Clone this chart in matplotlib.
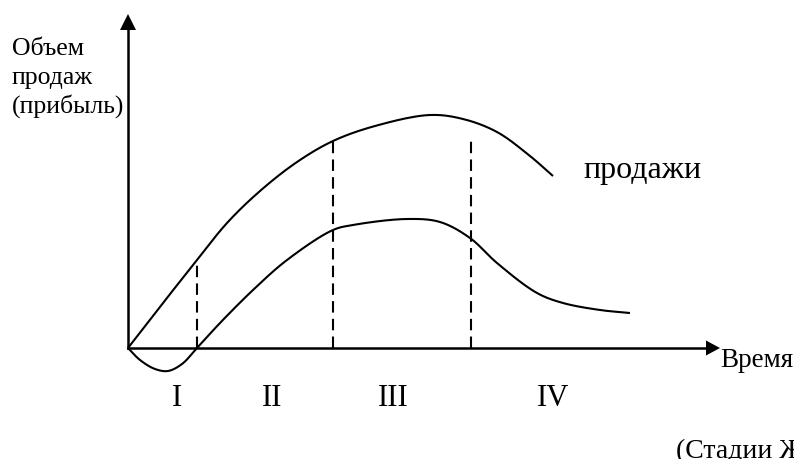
import numpy as np
import matplotlib.pyplot as plt

plt.rcParams['font.family'] = ['Liberation Serif', 'DejaVu Serif']

# values (time, volume); origin of the axes at (0, 0)
sales_t = [0, 35, 69, 99, 132, 169, 205, 247, 302, 335, 369, 402, 425]
sales_v = [0, 45, 88, 125, 157, 186, 207, 222, 233, 229, 216, 192, 172]

profit_t = [0, 12, 27, 40, 54, 69, 92, 125, 159, 205, 225, 279, 312, 342, 369, 409, 435, 472, 502]
profit_v = [0, -12, -21, -23, -16, 0, 25, 58, 88, 118, 123, 129, 126, 110, 85, 55, 45, 38, 35]

stage_bounds = [69, 205, 343]
stage_tops = [88, 208, 211]
stage_names = ['I', 'II', 'III', 'IV']
stage_label_t = [49, 144, 265, 425]


def smooth(xs, ys, n=20):
    # centripetal Catmull-Rom curve through the read-off points
    p = np.column_stack([xs, ys]).astype(float)
    p = np.vstack([2 * p[0] - p[1], p, 2 * p[-1] - p[-2]])
    out = []
    for i in range(1, len(p) - 2):
        p0, p1, p2, p3 = p[i - 1], p[i], p[i + 1], p[i + 2]
        t0 = 0.0
        t1 = t0 + np.linalg.norm(p1 - p0) ** 0.5
        t2 = t1 + np.linalg.norm(p2 - p1) ** 0.5
        t3 = t2 + np.linalg.norm(p3 - p2) ** 0.5
        t = np.linspace(t1, t2, n, endpoint=False)[:, None]
        a1 = (t1 - t) / (t1 - t0) * p0 + (t - t0) / (t1 - t0) * p1
        a2 = (t2 - t) / (t2 - t1) * p1 + (t - t1) / (t2 - t1) * p2
        a3 = (t3 - t) / (t3 - t2) * p2 + (t - t2) / (t3 - t2) * p3
        b1 = (t2 - t) / (t2 - t0) * a1 + (t - t0) / (t2 - t0) * a2
        b2 = (t3 - t) / (t3 - t1) * a2 + (t - t1) / (t3 - t1) * a3
        out.append((t2 - t) / (t2 - t1) * b1 + (t - t1) / (t2 - t1) * b2)
    out.append(p[-2][None, :])
    out = np.vstack(out)
    return out[:, 0], out[:, 1]


fig = plt.figure(figsize=(7.94, 4.59), dpi=100)
ax = fig.add_axes([0, 0, 1, 1])
ax.set_xlim(-128, 666)
ax.set_ylim(-111, 348)
ax.axis('off')

# axes with arrows
ax.plot([0, 0], [0, 320], color='black', lw=1.8)
ax.plot([0, 580], [0, 0], color='black', lw=1.8)
ax.fill([-8, 8, 0], [318, 318, 334], color='black', lw=0)
ax.fill([578, 578, 592], [-7.5, 7.5, 0], color='black', lw=0)

x, y = smooth(sales_t, sales_v)
ax.plot(x, y, color='black', lw=1.5, solid_capstyle='butt')
x, y = smooth(profit_t, profit_v)
ax.plot(x, y, color='black', lw=1.5, solid_capstyle='butt')

for b, top in zip(stage_bounds, stage_tops):
    ax.plot([b, b], [0, top], color='black', lw=1.5, ls=(0, (5.5, 3)))

for name, t in zip(stage_names, stage_label_t):
    ax.text(t, -58, name, fontsize=22, ha='center', va='baseline')

ax.text(-116, 293, 'Объем', fontsize=18.5, va='baseline')
ax.text(-116, 264, 'продаж', fontsize=18.5, va='baseline')
ax.text(-116, 235, '(прибыль)', fontsize=18.5, va='baseline')
ax.text(455, 170, 'продажи', fontsize=23, va='baseline')
ax.text(592, -19, 'Время', fontsize=19.5, va='baseline')
ax.text(548, -110, '(Стадии ЖЦТ)', fontsize=20, va='baseline')

fig.savefig('out.png', dpi=100)
